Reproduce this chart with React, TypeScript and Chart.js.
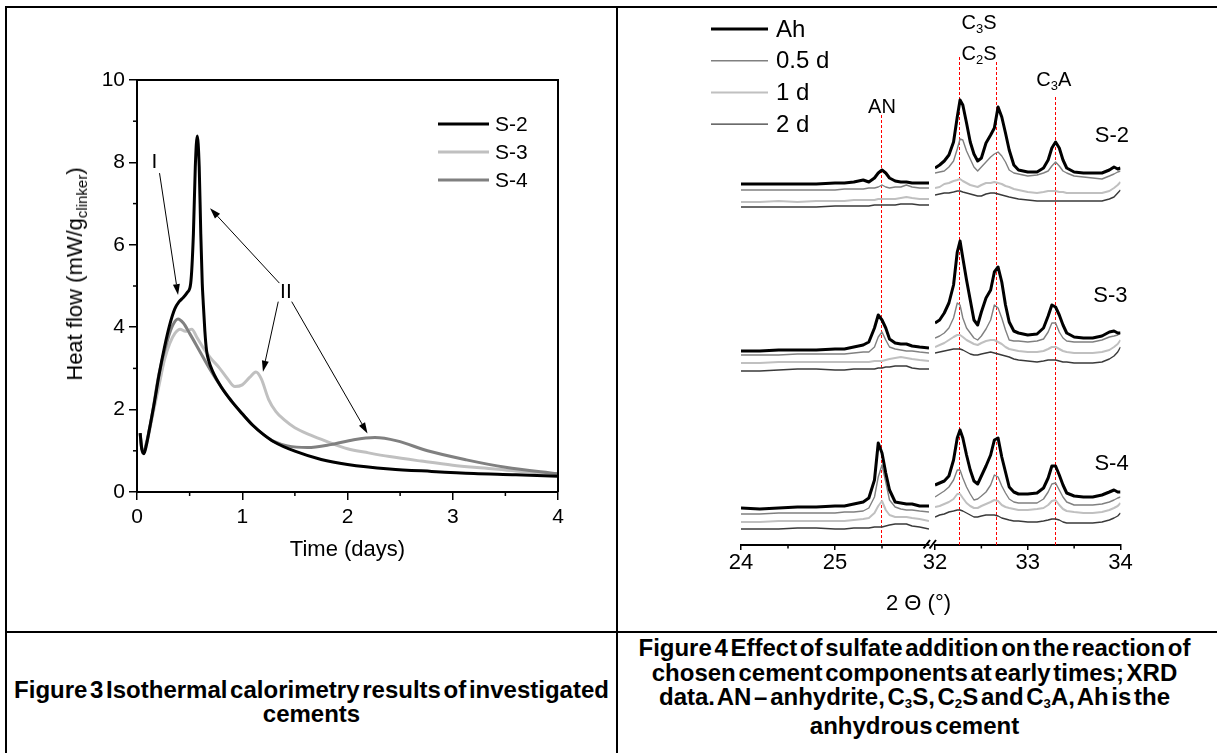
import React, { useEffect, useRef } from 'react';
import { Chart, registerables } from 'chart.js';

Chart.register(...registerables);

const FONT = '"Liberation Sans", Arial, Helvetica, sans-serif';

// ---------------- Figure 3: isothermal calorimetry ----------------
const seriesNames = ['S-2', 'S-3', 'S-4'];

const s2Time = [0.03, 0.045, 0.066, 0.09, 0.12, 0.16, 0.21, 0.26, 0.31, 0.36, 0.40, 0.44, 0.48, 0.51, 0.536, 0.554, 0.572, 0.591, 0.606, 0.62, 0.628, 0.645, 0.66, 0.68, 0.72, 0.8, 0.9, 1.0, 1.1, 1.2, 1.3, 1.5, 1.75, 2.0, 2.4, 2.8, 3.2, 3.6, 4.0];
const s2Flow = [1.43, 1.05, 0.93, 1.15, 1.55, 2.1, 2.85, 3.5, 4.05, 4.45, 4.62, 4.72, 4.85, 5.06, 6.27, 7.9, 8.64, 7.9, 6.27, 5.06, 4.66, 3.9, 3.45, 3.2, 2.92, 2.55, 2.2, 1.9, 1.62, 1.4, 1.22, 0.99, 0.79, 0.67, 0.56, 0.5, 0.45, 0.42, 0.38];

const s3Time = [0.03, 0.045, 0.066, 0.09, 0.12, 0.16, 0.21, 0.26, 0.31, 0.36, 0.41, 0.46, 0.52, 0.57, 0.63, 0.7, 0.78, 0.86, 0.93, 1.0, 1.07, 1.13, 1.18, 1.25, 1.32, 1.4, 1.5, 1.65, 1.8, 2.0, 2.2, 2.4, 2.7, 3.0, 3.3, 3.6, 4.0];
const s3Flow = [1.4, 1.05, 0.98, 1.15, 1.5, 2.0, 2.6, 3.2, 3.6, 3.85, 3.95, 3.9, 3.95, 3.75, 3.5, 3.25, 3.02, 2.75, 2.56, 2.6, 2.78, 2.91, 2.75, 2.25, 1.95, 1.75, 1.56, 1.38, 1.23, 1.05, 0.95, 0.86, 0.75, 0.65, 0.58, 0.51, 0.44];

const s4Time = [0.03, 0.045, 0.062, 0.09, 0.14, 0.21, 0.29, 0.34, 0.39, 0.44, 0.5, 0.6, 0.7, 0.8, 0.9, 1.0, 1.1, 1.2, 1.3, 1.43, 1.62, 1.84, 2.06, 2.26, 2.47, 2.76, 3.13, 3.5, 4.0];
const s4Flow = [1.43, 1.05, 0.99, 1.2, 1.83, 2.88, 3.69, 4.05, 4.2, 4.1, 3.85, 3.4, 2.95, 2.55, 2.2, 1.9, 1.62, 1.4, 1.23, 1.12, 1.08, 1.15, 1.27, 1.32, 1.24, 1.0, 0.78, 0.6, 0.44];

const timeMinorTicks = [0.5, 1.5, 2.5, 3.5];
const flowMinorTicks = [1, 3, 5, 7, 9];

// annotation arrows (time, heat flow)
const arrowStartT = [0.214, 1.353, 1.342, 1.47];
const arrowStartV = [7.74, 5.07, 4.62, 4.62];
const arrowEndT = [0.39, 0.694, 1.197, 2.19];
const arrowEndV = [4.78, 6.89, 2.92, 1.42];
const romanText = ['I', 'II'];
const romanT = [0.166, 1.415];
const romanV = [8.0, 4.85];

// ---------------- Figure 4: XRD ----------------
const xrdLegend = ['Ah', '0.5 d', '1 d', '2 d'];

const xrdLeftAngle = [24.0, 24.2, 24.4, 24.6, 24.8, 25.0, 25.1, 25.2, 25.3, 25.36, 25.42, 25.46, 25.5, 25.54, 25.58, 25.64, 25.7, 25.76, 25.82, 25.9, 26.0];
const s2AhL = [361, 361, 361, 361, 361, 362, 362, 363, 365, 363, 367, 372, 375, 372, 367, 364, 363, 363, 362, 362, 362];
const s2HalfL = [355, 355, 355, 355, 355, 355, 356, 356, 356, 357, 357, 358, 360, 358, 357, 358, 358, 360, 358, 357, 357];
const s2OneL = [343, 343, 344, 343, 344, 344, 344, 345, 345, 345, 345, 346, 346, 346, 346, 346, 347, 348, 347, 346, 346];
const s2TwoL = [338, 338, 338, 338, 338, 339, 339, 339, 339, 339, 340, 340, 340, 340, 340, 340, 341, 341, 341, 340, 340];
const s3AhL = [194, 194, 195, 195, 195, 196, 196, 198, 200, 203, 217, 230, 225, 217, 206, 202, 201, 201, 199, 198, 197];
const s3HalfL = [190, 190, 190, 191, 191, 191, 191, 192, 193, 193, 198, 208, 213, 205, 198, 196, 195, 194, 194, 193, 192];
const s3OneL = [182, 182, 183, 183, 183, 183, 183, 183, 183, 183, 184, 184, 184, 185, 186, 187, 188, 187, 186, 185, 184];
const s3TwoL = [174, 174, 175, 176, 176, 175, 175, 176, 176, 176, 176, 177, 177, 178, 178, 179, 179, 179, 177, 176, 176];
const s4AhL = [37, 36, 37, 38, 38, 39, 39, 41, 43, 47, 65, 102, 92, 72, 55, 43, 42, 41, 41, 39, 39];
const s4HalfL = [31, 31, 32, 32, 32, 32, 33, 33, 34, 37, 48, 68, 80, 63, 45, 38, 36, 35, 35, 34, 33];
const s4OneL = [23, 23, 24, 24, 24, 24, 24, 25, 26, 27, 32, 39, 44, 35, 30, 28, 28, 28, 27, 26, 24];
const s4TwoL = [16, 16, 16, 17, 17, 16, 16, 17, 17, 17, 18, 18, 18, 19, 20, 21, 21, 21, 19, 18, 16];

const xrdRightAngle = [32.0, 32.05, 32.1, 32.15, 32.2, 32.24, 32.27, 32.3, 32.34, 32.38, 32.42, 32.46, 32.5, 32.55, 32.6, 32.64, 32.68, 32.72, 32.76, 32.8, 32.85, 32.9, 33.0, 33.1, 33.17, 33.22, 33.26, 33.3, 33.34, 33.38, 33.42, 33.5, 33.6, 33.7, 33.8, 33.88, 33.93, 33.97, 34.0];
const s2AhR = [377, 380, 384, 390, 403, 428, 445, 440, 422, 403, 391, 384, 387, 402, 410, 417, 438, 428, 412, 395, 380, 375, 373, 373, 377, 385, 397, 403, 397, 385, 377, 373, 372, 372, 372, 375, 378, 376, 377];
const s2HalfR = [372, 373, 374, 378, 384, 396, 406, 405, 394, 386, 378, 374, 378, 383, 388, 391, 393, 389, 383, 375, 372, 371, 369, 370, 372, 374, 379, 383, 379, 374, 372, 369, 368, 367, 366, 369, 371, 373, 374];
const s2OneR = [357, 358, 361, 362, 364, 365, 366, 364, 362, 360, 359, 358, 360, 362, 362, 363, 362, 361, 359, 358, 356, 355, 353, 352, 353, 354, 354, 354, 353, 353, 352, 352, 352, 352, 352, 354, 357, 360, 363];
const s2TwoR = [350, 351, 352, 352, 353, 354, 354, 353, 352, 351, 350, 349, 349, 351, 352, 352, 351, 350, 349, 348, 347, 346, 345, 344, 344, 344, 344, 344, 344, 344, 344, 344, 344, 344, 344, 346, 348, 352, 355];
const s3AhR = [222, 225, 232, 242, 260, 293, 304, 287, 265, 245, 225, 220, 233, 247, 255, 273, 278, 263, 240, 223, 214, 212, 210, 211, 217, 229, 240, 238, 230, 220, 212, 208, 207, 207, 209, 213, 214, 212, 212];
const s3HalfR = [207, 209, 212, 217, 227, 242, 240, 227, 217, 212, 207, 205, 209, 216, 225, 240, 237, 227, 215, 205, 204, 204, 203, 204, 206, 213, 222, 222, 213, 207, 204, 203, 203, 203, 205, 208, 209, 210, 212];
const s3OneR = [198, 200, 202, 205, 208, 210, 210, 208, 205, 203, 201, 200, 202, 204, 205, 205, 203, 201, 198, 196, 195, 194, 193, 193, 194, 196, 198, 198, 196, 194, 193, 192, 192, 192, 193, 195, 198, 201, 205];
const s3TwoR = [192, 193, 194, 195, 196, 196, 196, 195, 193, 191, 190, 190, 191, 192, 193, 192, 191, 190, 189, 188, 186, 185, 184, 183, 184, 185, 185, 185, 184, 183, 183, 182, 182, 182, 183, 186, 189, 193, 198];
const s4AhR = [60, 62, 64, 69, 85, 107, 115, 107, 90, 75, 64, 61, 69, 79, 90, 105, 107, 88, 73, 58, 53, 51, 51, 52, 57, 67, 79, 79, 70, 60, 52, 49, 48, 48, 50, 53, 55, 53, 53];
const s4HalfR = [48, 51, 54, 58, 65, 75, 75, 67, 58, 51, 45, 46, 49, 53, 60, 70, 68, 59, 52, 46, 43, 42, 42, 42, 46, 53, 61, 62, 55, 48, 43, 40, 40, 40, 41, 43, 45, 47, 48];
const s4OneR = [38, 39, 41, 43, 46, 51, 51, 47, 42, 39, 37, 37, 39, 41, 43, 45, 44, 40, 38, 37, 36, 35, 35, 36, 37, 40, 44, 45, 40, 36, 34, 33, 32, 32, 33, 35, 37, 39, 42];
const s4TwoR = [28, 30, 31, 33, 34, 35, 35, 34, 32, 30, 28, 28, 29, 30, 30, 30, 29, 27, 26, 25, 24, 24, 23, 23, 24, 25, 26, 26, 25, 23, 22, 22, 22, 22, 23, 25, 27, 29, 32];

const leftAngleTicks = [24, 25];
const leftAngleMinor = [24.5, 25.5];
const rightAngleTicks = [32, 33, 34];
const rightAngleMinor = [32.5, 33.5];

// reference lines for phases (angle, top of line in intensity units)
const anAngle = 25.49;
const anTop = 430;
const phaseLineAngle = [32.26, 32.655, 33.29];
const phaseLineTop = [488, 483, 448];
const phaseLabelAngle = [32.474, 32.474, 33.28];
const phaseLabelLevel = [523, 492, 466];
const sampleLabelAngle = [33.908, 33.892, 33.903];
const sampleLabelLevel = [409, 249, 81];
const anLabelAngle = 25.5;
const anLabelLevel = 438;

// styles
const fig3Colors = ['#000000', '#c0c0c0', '#808080'];
const xrdColors = ['#000000', '#808080', '#c0c0c0', '#3a3a3a'];
const xrdWidths = [3, 1.4, 2, 1.4];

function arrow(ctx: any, x1: number, y1: number, x2: number, y2: number) {
  const ang = Math.atan2(y2 - y1, x2 - x1);
  const len = 11;
  const hw = 3.5;
  const bx = x2 - Math.cos(ang) * len;
  const by = y2 - Math.sin(ang) * len;
  ctx.beginPath();
  ctx.moveTo(x1, y1);
  ctx.lineTo(bx, by);
  ctx.lineWidth = 1;
  ctx.stroke();
  ctx.beginPath();
  ctx.moveTo(x2, y2);
  ctx.lineTo(bx + Math.sin(ang) * hw, by - Math.cos(ang) * hw);
  ctx.lineTo(bx - Math.sin(ang) * hw, by + Math.cos(ang) * hw);
  ctx.closePath();
  ctx.fill();
}

function drawRich(ctx: any, parts: [string, boolean][], cx: number, cy: number, size: number, subSize: number) {
  const main = `${size}px ${FONT}`;
  const sub = `${subSize}px ${FONT}`;
  let w = 0;
  parts.forEach(([t, s]) => {
    ctx.font = s ? sub : main;
    w += ctx.measureText(t).width;
  });
  let x = cx - w / 2;
  const base = cy + size * 0.36;
  ctx.textAlign = 'left';
  ctx.textBaseline = 'alphabetic';
  parts.forEach(([t, s]) => {
    ctx.font = s ? sub : main;
    ctx.fillText(t, x, s ? base + size * 0.2 : base);
    x += ctx.measureText(t).width;
  });
}

const fig3Plugin = {
  id: 'fig3Decor',
  afterDraw(chart: any) {
    const { ctx, chartArea: a } = chart;
    const x = chart.scales.x;
    const y = chart.scales.y;
    ctx.save();
    ctx.strokeStyle = '#000';
    ctx.fillStyle = '#000';
    ctx.lineWidth = 2;
    ctx.beginPath();
    ctx.moveTo(a.left, a.top);
    ctx.lineTo(a.right, a.top);
    ctx.lineTo(a.right, a.bottom);
    ctx.stroke();
    ctx.lineWidth = 1.5;
    timeMinorTicks.forEach((v) => {
      const px = x.getPixelForValue(v);
      ctx.beginPath();
      ctx.moveTo(px, a.bottom);
      ctx.lineTo(px, a.bottom + 4);
      ctx.stroke();
    });
    flowMinorTicks.forEach((v) => {
      const py = y.getPixelForValue(v);
      ctx.beginPath();
      ctx.moveTo(a.left - 4, py);
      ctx.lineTo(a.left, py);
      ctx.stroke();
    });
    // legend
    seriesNames.forEach((name, i) => {
      const ly = a.top + 44 + i * 28;
      ctx.strokeStyle = fig3Colors[i];
      ctx.lineWidth = 3;
      ctx.beginPath();
      ctx.moveTo(a.left + 301, ly);
      ctx.lineTo(a.left + 352, ly);
      ctx.stroke();
      ctx.fillStyle = '#000';
      ctx.font = `21px ${FONT}`;
      ctx.textAlign = 'left';
      ctx.textBaseline = 'middle';
      ctx.fillText(name, a.left + 358, ly + 1);
    });
    // annotations
    ctx.strokeStyle = '#000';
    ctx.fillStyle = '#000';
    ctx.font = `21px ${FONT}`;
    ctx.textAlign = 'center';
    ctx.textBaseline = 'middle';
    romanText.forEach((t, i) => {
      ctx.fillText(t, x.getPixelForValue(romanT[i]), y.getPixelForValue(romanV[i]));
    });
    arrowStartT.forEach((t, i) => {
      arrow(ctx, x.getPixelForValue(t), y.getPixelForValue(arrowStartV[i]),
        x.getPixelForValue(arrowEndT[i]), y.getPixelForValue(arrowEndV[i]));
    });
    ctx.restore();
  },
};

function minorTicks(chart: any, values: number[]) {
  const { ctx, chartArea: a } = chart;
  const x = chart.scales.x;
  ctx.save();
  ctx.strokeStyle = '#000';
  ctx.lineWidth = 1.5;
  values.forEach((v) => {
    const px = x.getPixelForValue(v);
    ctx.beginPath();
    ctx.moveTo(px, a.bottom);
    ctx.lineTo(px, a.bottom + 3.5);
    ctx.stroke();
  });
  ctx.restore();
}

function dashedLine(chart: any, angle: number, top: number) {
  const { ctx } = chart;
  const x = chart.scales.x;
  const y = chart.scales.y;
  const px = Math.round(x.getPixelForValue(angle)) + 0.5;
  ctx.save();
  ctx.strokeStyle = '#ff0000';
  ctx.lineWidth = 1;
  ctx.setLineDash([3, 2]);
  ctx.beginPath();
  ctx.moveTo(px, y.getPixelForValue(top));
  ctx.lineTo(px, y.getPixelForValue(0));
  ctx.stroke();
  ctx.restore();
}

const xrdLeftPlugin = {
  id: 'xrdLeftDecor',
  beforeDatasetsDraw(chart: any) {
    dashedLine(chart, anAngle, anTop);
  },
  afterDraw(chart: any) {
    const { ctx, chartArea: a } = chart;
    const x = chart.scales.x;
    const y = chart.scales.y;
    minorTicks(chart, leftAngleMinor);
    ctx.save();
    ctx.fillStyle = '#000';
    ctx.font = `20px ${FONT}`;
    ctx.textAlign = 'center';
    ctx.textBaseline = 'middle';
    ctx.fillText('AN', x.getPixelForValue(anLabelAngle), y.getPixelForValue(anLabelLevel));
    xrdLegend.forEach((name, i) => {
      const ly = a.top + 14 + i * 31.7;
      ctx.strokeStyle = xrdColors[i];
      ctx.lineWidth = xrdWidths[i];
      ctx.beginPath();
      ctx.moveTo(a.left - 30, ly);
      ctx.lineTo(a.left + 27, ly);
      ctx.stroke();
      ctx.fillStyle = '#000';
      ctx.font = `24px ${FONT}`;
      ctx.textAlign = 'left';
      ctx.textBaseline = 'middle';
      ctx.fillText(name, a.left + 35, ly + 1);
    });
    ctx.restore();
  },
};

const phaseParts: [string, boolean][][] = [
  [['C', false], ['3', true], ['S', false]],
  [['C', false], ['2', true], ['S', false]],
  [['C', false], ['3', true], ['A', false]],
];

const xrdRightPlugin = {
  id: 'xrdRightDecor',
  beforeDatasetsDraw(chart: any) {
    phaseLineAngle.forEach((ang, i) => dashedLine(chart, ang, phaseLineTop[i]));
  },
  afterDraw(chart: any) {
    const { ctx, chartArea: a } = chart;
    const x = chart.scales.x;
    const y = chart.scales.y;
    minorTicks(chart, rightAngleMinor);
    ctx.save();
    ctx.fillStyle = '#000';
    phaseParts.forEach((parts, i) => {
      drawRich(ctx, parts, x.getPixelForValue(phaseLabelAngle[i]), y.getPixelForValue(phaseLabelLevel[i]), 20, 13);
    });
    ctx.font = `22px ${FONT}`;
    ctx.textAlign = 'center';
    ctx.textBaseline = 'middle';
    seriesNames.forEach((name, i) => {
      ctx.fillText(name, x.getPixelForValue(sampleLabelAngle[i]), y.getPixelForValue(sampleLabelLevel[i]));
    });
    // axis break marks
    ctx.strokeStyle = '#000';
    ctx.lineWidth = 2;
    const bx = a.left;
    const by = a.bottom;
    ctx.beginPath();
    ctx.moveTo(bx - 11.5, by + 3.5);
    ctx.lineTo(bx - 5, by - 5);
    ctx.moveTo(bx - 5.5, by + 3.5);
    ctx.lineTo(bx + 1, by - 5);
    ctx.stroke();
    ctx.restore();
  },
};

function xrdDatasets(angles: number[], groups: number[][][]) {
  const sets: any[] = [];
  for (let c = 0; c < 4; c++) {
    groups.forEach((g, gi) => {
      sets.push({
        label: `${seriesNames[gi]} ${xrdLegend[c]}`,
        data: angles.map((a, i) => ({ x: a, y: g[c][i] })),
        borderColor: xrdColors[c],
        borderWidth: xrdWidths[c],
        pointRadius: 0,
        tension: 0,
        fill: false,
        borderJoinStyle: 'round',
      });
    });
  }
  return sets;
}

function xrdConfig(angles: number[], groups: number[][][], min: number, max: number, ticks: number[], padding: any, plugin: any): any {
  return {
    type: 'line',
    data: { datasets: xrdDatasets(angles, groups) },
    options: {
      animation: false,
      responsive: false,
      events: [],
      layout: { padding },
      plugins: { legend: { display: false }, tooltip: { enabled: false } },
      scales: {
        x: {
          type: 'linear',
          min,
          max,
          afterBuildTicks(s: any) {
            s.ticks = ticks.map((v) => ({ value: v }));
          },
          ticks: { font: { family: FONT, size: 22 }, color: '#000', padding: 0, maxRotation: 0, autoSkip: false },
          grid: { drawOnChartArea: false, tickLength: 5, color: '#000', lineWidth: 1.5 },
          border: { color: '#000', width: 2 },
          afterFit(s: any) {
            s.height = 83;
          },
        },
        y: { display: false, min: 0, max: 530 },
      },
    },
    plugins: [plugin],
  };
}

function fig3Config(): any {
  const series = [
    { t: s2Time, v: s2Flow, c: fig3Colors[0], n: seriesNames[0] },
    { t: s4Time, v: s4Flow, c: fig3Colors[2], n: seriesNames[2] },
    { t: s3Time, v: s3Flow, c: fig3Colors[1], n: seriesNames[1] },
  ];
  return {
    type: 'line',
    data: {
      datasets: series.map((s) => ({
        label: s.n,
        data: s.t.map((t, i) => ({ x: t, y: s.v[i] })),
        borderColor: s.c,
        borderWidth: 3,
        pointRadius: 0,
        cubicInterpolationMode: 'monotone',
        fill: false,
      })),
    },
    options: {
      animation: false,
      responsive: false,
      events: [],
      layout: { padding: { left: 0, top: 72, right: 50, bottom: 0 } },
      plugins: { legend: { display: false }, tooltip: { enabled: false } },
      scales: {
        x: {
          type: 'linear',
          min: 0,
          max: 4,
          ticks: { stepSize: 1, font: { family: FONT, size: 21 }, color: '#000', padding: 5, maxRotation: 0 },
          grid: { drawOnChartArea: false, tickLength: 8, color: '#000', lineWidth: 1.5 },
          border: { color: '#000', width: 2 },
          title: { display: true, text: 'Time (days)', font: { family: FONT, size: 22 }, color: '#000', padding: { top: 0, bottom: 55 } },
          afterFit(s: any) {
            s.height = 126;
          },
        },
        y: {
          min: 0,
          max: 10,
          ticks: { stepSize: 2, font: { family: FONT, size: 21 }, color: '#000', padding: 4 },
          grid: { drawOnChartArea: false, tickLength: 8, color: '#000', lineWidth: 1.5 },
          border: { color: '#000', width: 2 },
          afterFit(s: any) {
            s.width = 129;
          },
        },
      },
    },
    plugins: [fig3Plugin],
  };
}

export default function App() {
  const c1 = useRef<HTMLCanvasElement>(null);
  const c2 = useRef<HTMLCanvasElement>(null);
  const c3 = useRef<HTMLCanvasElement>(null);

  useEffect(() => {
    const leftGroups = [
      [s2AhL, s2HalfL, s2OneL, s2TwoL],
      [s3AhL, s3HalfL, s3OneL, s3TwoL],
      [s4AhL, s4HalfL, s4OneL, s4TwoL],
    ];
    const rightGroups = [
      [s2AhR, s2HalfR, s2OneR, s2TwoR],
      [s3AhR, s3HalfR, s3OneR, s3TwoR],
      [s4AhR, s4HalfR, s4OneR, s4TwoR],
    ];
    const charts = [
      new Chart(c1.current as HTMLCanvasElement, fig3Config()),
      new Chart(c2.current as HTMLCanvasElement, xrdConfig(xrdLeftAngle, leftGroups, 24, 26, leftAngleTicks, { left: 51, top: 7, right: 6, bottom: 0 }, xrdLeftPlugin)),
      new Chart(c3.current as HTMLCanvasElement, xrdConfig(xrdRightAngle, rightGroups, 32, 34, rightAngleTicks, { left: 35, top: 7, right: 69.5, bottom: 0 }, xrdRightPlugin)),
    ];
    return () => charts.forEach((c) => c.destroy());
  }, []);

  const line = (style: React.CSSProperties) => (
    <div style={{ position: 'absolute', background: '#000', ...style }} />
  );
  const subStyle: React.CSSProperties = { fontSize: '0.55em', verticalAlign: 'baseline', position: 'relative', top: '0.25em' };

  return (
    <div style={{ position: 'fixed', left: 0, top: 0, width: 1217, height: 753, background: '#fff', overflow: 'hidden', fontFamily: FONT, color: '#000' }}>
      {line({ left: 5, top: 6, width: 1212, height: 2 })}
      {line({ left: 5, top: 6, width: 2, height: 747 })}
      {line({ left: 616, top: 6, width: 2, height: 747 })}
      {line({ left: 5, top: 631, width: 1212, height: 2 })}

      <canvas ref={c1} width={600} height={610} style={{ position: 'absolute', left: 8, top: 8, width: 600, height: 610 }} />
      <canvas ref={c2} width={245} height={620} style={{ position: 'absolute', left: 690, top: 8, width: 245, height: 620 }} />
      <canvas ref={c3} width={290} height={620} style={{ position: 'absolute', left: 900, top: 8, width: 290, height: 620 }} />

      <div style={{ position: 'absolute', left: 76, top: 274, transform: 'translate(-50%, -50%) rotate(-90deg)', whiteSpace: 'nowrap', fontSize: 22, lineHeight: '24px' }}>
        Heat flow (mW/g<span style={{ fontSize: 15, position: 'relative', top: 5 }}>clinker</span>)
      </div>

      <div style={{ position: 'absolute', left: 918.5, top: 603, transform: 'translate(-50%, -50%)', whiteSpace: 'nowrap', fontSize: 22, lineHeight: '24px' }}>
        2 Θ (°)
      </div>

      <div style={{ position: 'absolute', left: 7, top: 677.75, width: 609, textAlign: 'center', fontWeight: 'bold', fontSize: 24, lineHeight: '24.5px', wordSpacing: -4, whiteSpace: 'nowrap' }}>
        Figure 3 Isothermal calorimetry results of investigated<br />cements
      </div>
      <div style={{ position: 'absolute', left: 618, top: 636, width: 593, textAlign: 'center', fontWeight: 'bold', fontSize: 24, lineHeight: '24.5px', wordSpacing: -4, whiteSpace: 'nowrap' }}>
        Figure 4 Effect of sulfate addition on the reaction of<br />
        chosen cement components at early times; XRD<br />
        data. AN – anhydrite, C<span style={subStyle}>3</span>S, C<span style={subStyle}>2</span>S and C<span style={subStyle}>3</span>A, Ah is the<br />
        anhydrous cement
      </div>
    </div>
  );
}
